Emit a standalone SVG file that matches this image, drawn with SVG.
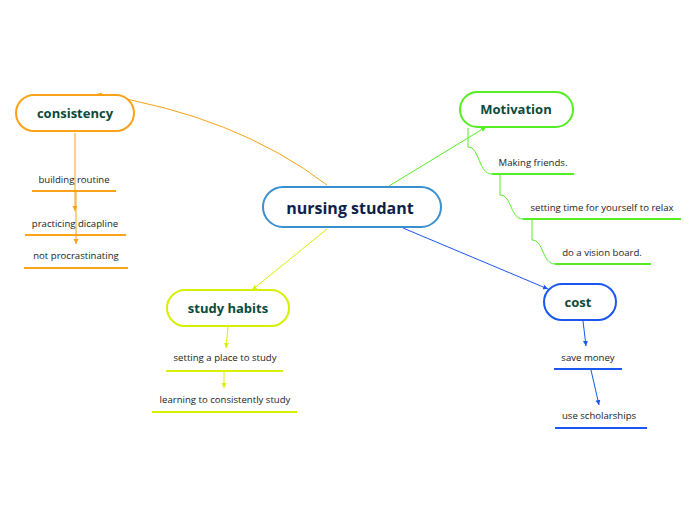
<svg xmlns="http://www.w3.org/2000/svg" width="696" height="520" viewBox="0 0 696 520">
<style>
.main{font-family:"Open Sans","Noto Sans",sans-serif;font-weight:bold;text-anchor:middle}
.sub{font-family:"Open Sans","Noto Sans",sans-serif;font-size:9.6px;fill:#222;text-anchor:middle}
.box{fill:#fff;stroke-width:2}
.c{fill:none;stroke-width:1}
</style>
<defs>
<marker id="aO" markerWidth="6" markerHeight="6" refX="5" refY="3" orient="auto" markerUnits="userSpaceOnUse"><path d="M0,0.5 L5,3 L0,5.5z" fill="#f9a21a"/></marker>
<marker id="aG" markerWidth="6" markerHeight="6" refX="5" refY="3" orient="auto" markerUnits="userSpaceOnUse"><path d="M0,0.5 L5,3 L0,5.5z" fill="#55ee22"/></marker>
<marker id="aY" markerWidth="6" markerHeight="6" refX="5" refY="3" orient="auto" markerUnits="userSpaceOnUse"><path d="M0,0.5 L5,3 L0,5.5z" fill="#d6f000"/></marker>
<marker id="aB" markerWidth="6" markerHeight="6" refX="5" refY="3" orient="auto" markerUnits="userSpaceOnUse"><path d="M0,0.5 L5,3 L0,5.5z" fill="#1a56f0"/></marker>
</defs>
<rect width="696" height="520" fill="#fff"/>
<g id="connectors">
<path class="c" stroke="#f9a21a" d="M327,185 Q235,115 97,94" marker-end="url(#aO)"/>
<path class="c" stroke="#55ee22" d="M389,186 L486,127" marker-end="url(#aG)"/>
<path class="c" stroke="#d6f000" d="M327,229 L252,290" marker-end="url(#aY)"/>
<path class="c" stroke="#1a56f0" d="M403,228 L548,289" marker-end="url(#aB)"/>
<path class="c" stroke="#f9a21a" d="M75,133 L75,211" marker-end="url(#aO)"/>
<path class="c" stroke="#f9a21a" d="M76,191 L76,244" marker-end="url(#aO)"/>
<path class="c" stroke="#55ee22" d="M468,128 L468,147 C480,147 478,174 492,174"/>
<path class="c" stroke="#55ee22" d="M500,174 L500,195 C512,195 510,219 523,219"/>
<path class="c" stroke="#55ee22" d="M532,219 L532,240 C544,240 542,264 555,264"/>
<path class="c" stroke="#d6f000" d="M228,327 L226,348" marker-end="url(#aY)"/>
<path class="c" stroke="#d6f000" d="M224,372 L224,388" marker-end="url(#aY)"/>
<path class="c" stroke="#1a56f0" d="M583,321 L586,346" marker-end="url(#aB)"/>
<path class="c" stroke="#1a56f0" d="M591,370 L599,405" marker-end="url(#aB)"/>
</g>
<g id="central">
<rect class="box" x="263" y="187" width="178" height="40" rx="20" stroke="#3a8fd0"/>
<text class="main" x="350" y="214" font-size="16" fill="#0d1f4a">nursing studant</text>
</g>
<g id="consistency">
<rect class="box" x="16" y="95" width="118" height="36" rx="18" stroke="#f9a21a"/>
<text class="main" x="75" y="118" font-size="13" fill="#0a4a3a">consistency</text>
</g>
<g id="building-routine">
<text class="sub" x="74" y="183">building routine</text>
<line x1="32" y1="191" x2="116" y2="191" stroke="#f9a21a" stroke-width="2"/>
</g>
<g id="practicing-dicapline">
<text class="sub" x="75" y="227">practicing dicapline</text>
<line x1="25" y1="235" x2="126" y2="235" stroke="#f9a21a" stroke-width="2"/>
</g>
<g id="not-procrastinating">
<text class="sub" x="76" y="259">not procrastinating</text>
<line x1="24" y1="268" x2="128" y2="268" stroke="#f9a21a" stroke-width="2"/>
</g>
<g id="motivation">
<rect class="box" x="460" y="92" width="113" height="35" rx="17.5" stroke="#55ee22"/>
<text class="main" x="516" y="114" font-size="13" fill="#0a4a3a">Motivation</text>
</g>
<g id="making-friends">
<text class="sub" x="533" y="166">Making friends.</text>
<line x1="492" y1="174" x2="574" y2="174" stroke="#55ee22" stroke-width="2"/>
</g>
<g id="setting-time">
<text class="sub" x="602" y="211">setting time for yourself to relax</text>
<line x1="523" y1="219" x2="681" y2="219" stroke="#55ee22" stroke-width="2"/>
</g>
<g id="vision-board">
<text class="sub" x="602" y="256">do a vision board.</text>
<line x1="555" y1="264" x2="651" y2="264" stroke="#55ee22" stroke-width="2"/>
</g>
<g id="study-habits">
<rect class="box" x="167" y="290" width="122" height="36" rx="18" stroke="#d6f000"/>
<text class="main" x="228" y="313" font-size="13" fill="#0a4a3a">study habits</text>
</g>
<g id="setting-place">
<text class="sub" x="225" y="361">setting a place to study</text>
<line x1="166" y1="371" x2="283" y2="371" stroke="#d6f000" stroke-width="2"/>
</g>
<g id="learning">
<text class="sub" x="225" y="403">learning to consistently study</text>
<line x1="152" y1="412" x2="297" y2="412" stroke="#d6f000" stroke-width="2"/>
</g>
<g id="cost">
<rect class="box" x="544" y="284" width="72" height="36" rx="18" stroke="#1a56f0"/>
<text class="main" x="578" y="307" font-size="13" fill="#0a4a3a">cost</text>
</g>
<g id="save-money">
<text class="sub" x="588" y="361">save money</text>
<line x1="554" y1="369" x2="622" y2="369" stroke="#1a56f0" stroke-width="2"/>
</g>
<g id="scholarships">
<text class="sub" x="599" y="419">use scholarships</text>
<line x1="555" y1="428" x2="647" y2="428" stroke="#1a56f0" stroke-width="2"/>
</g>
</svg>
